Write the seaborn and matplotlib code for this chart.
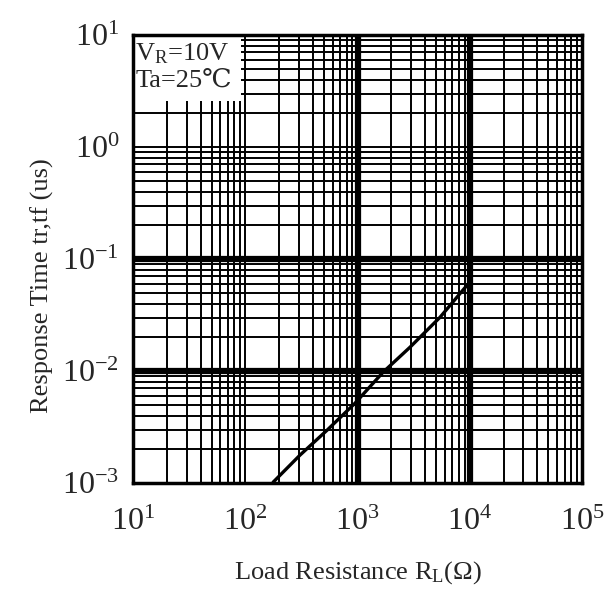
import numpy as np
import pandas as pd
import seaborn as sns
import matplotlib.pyplot as plt
from matplotlib.ticker import FuncFormatter, LogLocator, NullFormatter

# values
load_resistance = [177, 307, 535, 950, 1690, 2940, 5430, 9460]   # ohm
response_time = [1.02e-3, 1.78e-3, 2.97e-3, 5.18e-3, 9.8e-3, 0.0164, 0.0303, 0.0586]  # us
heavy_x = [1e3, 1e4]
heavy_y = [1e-2, 1e-1]

df = pd.DataFrame({'R': load_resistance, 't': response_time})

sns.set_style('white')
plt.rcParams['font.family'] = ['Liberation Serif', 'DejaVu Serif']
plt.rcParams['mathtext.fontset'] = 'custom'
plt.rcParams['mathtext.rm'] = 'Liberation Serif'
plt.rcParams['mathtext.it'] = 'Liberation Serif'

fig = plt.figure(figsize=(6.16, 5.95), dpi=100)
ax = fig.add_axes([0.216, 0.188, 0.729, 0.753])

sns.lineplot(data=df, x='R', y='t', ax=ax, color='black', lw=2.4, zorder=5)
ax.set_xscale('log')
ax.set_yscale('log')
ax.set_xlim(1e1, 1e5)
ax.set_ylim(1e-3, 1e1)

for axis in (ax.xaxis, ax.yaxis):
    axis.set_major_locator(LogLocator(base=10, numticks=20))
    axis.set_minor_locator(LogLocator(base=10, subs=np.arange(2, 10), numticks=200))
    axis.set_minor_formatter(NullFormatter())
ax.grid(which='both', color='black', lw=1.4)
ax.set_axisbelow(True)
for v in heavy_x:
    ax.axvline(v, color='black', lw=4.5, zorder=2)
for v in heavy_y:
    ax.axhline(v, color='black', lw=4.5, zorder=2)

fmt = FuncFormatter(lambda v, p: r'$\mathregular{10^{%d}}$' % round(np.log10(v)))
ax.xaxis.set_major_formatter(fmt)
ax.yaxis.set_major_formatter(fmt)
ax.tick_params(which='both', length=0, labelsize=23)
ax.tick_params(axis='x', pad=18)
ax.tick_params(axis='y', pad=10)

for s in ax.spines.values():
    s.set_color('black')
    s.set_linewidth(2.5)
    s.set_zorder(12)

ax.set_xlabel('Load Resistance R$_\\mathregular{L}$($\\Omega$)', fontsize=19, labelpad=16)
ax.set_ylabel('Response Time tr,tf (us)', fontsize=19, labelpad=8)
ax.yaxis.set_label_coords(-0.175, 0.44)

ax.text(0.005, 0.985, 'V$_\\mathregular{R}$=10V\nTa=25\u2103', transform=ax.transAxes,
        ha='left', va='top', fontsize=19, linespacing=1.2, zorder=10,
        bbox=dict(boxstyle='square,pad=0.35', fc='white', ec='none'))

fig.savefig('out.png', dpi=100)
